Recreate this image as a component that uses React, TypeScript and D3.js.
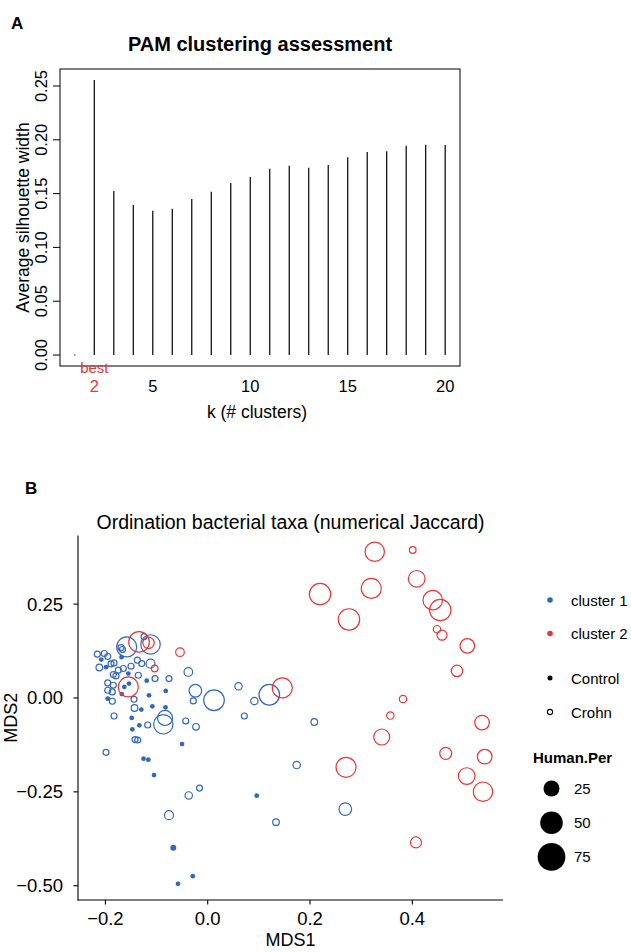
import React from "react";
import * as d3 from "d3";

// ---------- Panel A data ----------
const kValues = [1, 2, 3, 4, 5, 6, 7, 8, 9, 10, 11, 12, 13, 14, 15, 16, 17, 18, 19, 20];
const silhouette = [0, 0.2556, 0.1524, 0.1394, 0.1341, 0.136, 0.145, 0.1518, 0.1599, 0.1654, 0.1732, 0.176, 0.1741, 0.1766, 0.1837, 0.1887, 0.1893, 0.1945, 0.1955, 0.1952];
const yTicksA = [0, 0.05, 0.1, 0.15, 0.2, 0.25];
const xTicksA = [5, 10, 15, 20];
const bestK = 2;

// ---------- Panel B data: [MDS1, MDS2, Human.Per] ----------
const cluster2Crohn: [number, number, number][] = [
  [0.3265, 0.3893, 36.8], [0.4008, 0.3939, 4.3], [0.2196, 0.2765, 44.7], [0.3198, 0.2917, 39],
  [0.4086, 0.3173, 27], [0.2762, 0.2091, 44.7], [0.4399, 0.2605, 36.8], [0.4547, 0.2339, 44.7],
  [0.4483, 0.1832, 5.3], [0.4581, 0.1672, 9.8], [0.5075, 0.1387, 20.8], [0.4874, 0.072, 12.7],
  [0.1458, 0.0267, 39], [0.3818, -0.0027, 5.3], [0.357, -0.0469, 5.3], [0.3402, -0.104, 25],
  [0.5363, -0.0656, 20.8], [0.4653, -0.1475, 14], [0.5415, -0.1563, 20.8], [0.2704, -0.1848, 39],
  [0.5064, -0.208, 27], [0.5382, -0.2496, 36.8], [0.4072, -0.3848, 11.8], [-0.1343, 0.1493, 41.4],
  [-0.1157, 0.1467, 12.7], [-0.0542, 0.1219, 7.2], [-0.1036, 0.0784, 4.3], [-0.1552, 0.0293, 39],
];

const cluster1Crohn: [number, number, number][] = [
  [-0.1584, 0.136, 39], [-0.1118, 0.1424, 36.8], [0.0123, -0.0061, 41.4], [0.1204, 0.0085, 41.4],
  [-0.0868, -0.0701, 36.8], [-0.0835, -0.0533, 22], [-0.0242, 0.0192, 15.5], [-0.0379, 0.0693, 7.2],
  [-0.1118, 0.0912, 7.9], [0.269, -0.296, 15.5], [-0.0757, -0.312, 7.9], [-0.0371, -0.2595, 5.3],
  [-0.2158, 0.1165, 3.5], [-0.2022, 0.1184, 3.5], [-0.1955, 0.1104, 3.5], [-0.1891, 0.0907, 3.5],
  [-0.1832, 0.0933, 3.5], [-0.2119, 0.0811, 4.3], [-0.1748, 0.0739, 3.5], [-0.165, 0.0784, 3.5],
  [-0.15, 0.0845, 3.5], [-0.1376, 0.1005, 3.5], [-0.129, 0.0917, 3.5], [-0.1846, 0.0624, 3.5],
  [-0.1793, 0.0587, 3.5], [-0.1357, 0.0605, 3.5], [-0.103, 0.0517, 3.5], [-0.0757, 0.0517, 3.5],
  [-0.1955, 0.04, 3.5], [-0.1846, 0.0339, 3.5], [-0.1955, 0.0205, 3.5], [-0.1865, 0.016, 3.5],
  [-0.1865, -0.0088, 3.5], [-0.1441, -0.0035, 3.5], [-0.0282, -0.008, 3.5], [0.0602, 0.0312, 5.3],
  [0.0911, -0.008, 5.3], [-0.1431, -0.0267, 4.3], [-0.1832, -0.048, 3.5], [-0.1173, -0.072, 3.5],
  [-0.043, -0.0613, 3.5], [-0.0229, -0.0768, 4.3], [0.0716, -0.048, 3.5], [0.2084, -0.064, 4.3],
  [-0.1421, -0.1109, 3.5], [-0.1369, -0.112, 3.5], [-0.1988, -0.1448, 3.5], [-0.016, -0.24, 3.5],
  [0.174, -0.1787, 5.3], [0.1335, -0.3307, 4.3], [-0.1245, 0.1632, 3.5], [-0.1695, 0.1339, 3.5],
  [-0.1666, 0.1291, 3.5],
];

const cluster1Control: [number, number, number][] = [
  [-0.208, 0.1024, 2.2], [-0.1685, 0.1085, 2.2], [-0.1988, 0.0819, 2.2], [-0.1552, 0.0651, 2.2],
  [-0.1193, 0.0459, 2.2], [-0.163, 0.0293, 2.2], [-0.1539, 0.0384, 2.2], [-0.1681, 0.0104, 2.2],
  [-0.1148, 0.0072, 2.2], [-0.0821, 0.0187, 2.2], [-0.1955, -0.0021, 2.2], [-0.1298, -0.0309, 2.2],
  [-0.1083, -0.0221, 2.2], [-0.0825, -0.0248, 2.2], [-0.1486, -0.0533, 2.2], [-0.1337, -0.0728, 2.2],
  [-0.1474, -0.0835, 2.2], [-0.0502, -0.1227, 2.2], [-0.1255, -0.1616, 2.2], [-0.1161, -0.1643, 2.2],
  [-0.105, -0.2053, 2.2], [-0.0673, -0.3989, 3.5], [-0.0293, -0.4747, 2.2], [-0.0581, -0.4949, 2.2],
  [0.0958, -0.2603, 2.2],
];

const xTicksB = [-0.2, 0, 0.2, 0.4];
const yTicksB = [0.25, 0, -0.25, -0.5];
const clusterNames = ["cluster 1", "cluster 2"];
const groupNames = ["Control", "Crohn"];
const sizeBreaks = [25, 50, 75];

const BLUE = "#3267BF";
const RED = "#EE3333";
const FONT = "'Liberation Sans', Arial, Helvetica, sans-serif";

export default function App() {
  // Panel A scales
  const xA = d3.scaleLinear().domain([0.24, 20.76]).range([60, 460]);
  const yA = d3.scaleLinear().domain([-0.0102, 0.2658]).range([366, 69]);
  // Panel B scales
  const xB = d3.scaleLinear().domain([-0.2536, 0.5773]).range([78, 503]);
  const yB = d3.scaleLinear().domain([-0.538, 0.4326]).range([900, 535.5]);
  const rS = d3.scaleSqrt().domain([0, 75]).range([0, 13.86]);

  const fmt2 = d3.format(".2f");
  const fmtB = (v: number) => (v < 0 ? "\u2212" : "") + d3.format(".2f")(Math.abs(v));
  const fmtX = (v: number) => (v < 0 ? "\u2212" : "") + d3.format(".1f")(Math.abs(v));

  return (
    <svg width={631} height={952} style={{ position: "absolute", left: 0, top: 0, background: "#fff" }} fontFamily={FONT}>
      <rect x={0} y={0} width={631} height={952} fill="#fff" />
      {/* ---------------- Panel A ---------------- */}
      <text x={11} y={28.5} fontSize={17} fontWeight="bold">A</text>
      <text x={260} y={51} fontSize={20} fontWeight="bold" textAnchor="middle">PAM clustering assessment</text>
      <rect x={60} y={69} width={400} height={297} fill="none" stroke="#000" strokeWidth={1} />
      {kValues.map((k, i) => (
        <line key={k} x1={xA(k)} x2={xA(k)} y1={yA(0)} y2={yA(silhouette[i])} stroke="#000" strokeWidth={1.2}
          strokeLinecap={silhouette[i] === 0 ? "square" : "butt"} />
      ))}
      {yTicksA.map((t) => (
        <g key={t}>
          <line x1={53} x2={60} y1={yA(t)} y2={yA(t)} stroke="#000" strokeWidth={1} />
          <text transform={`translate(46.5,${yA(t)}) rotate(-90)`} fontSize={16.5} textAnchor="middle">{fmt2(t)}</text>
        </g>
      ))}
      {xTicksA.map((t) => (
        <text key={t} x={xA(t)} y={392} fontSize={16.5} textAnchor="middle">{t}</text>
      ))}
      <text x={xA(bestK)} y={373} fontSize={15} textAnchor="middle" fill={RED}>best</text>
      <text x={xA(bestK)} y={392} fontSize={16.5} textAnchor="middle" fill={RED}>{bestK}</text>
      <text x={257} y={418} fontSize={17.5} textAnchor="middle">k  (# clusters)</text>
      <text transform={`translate(28.5,217.5) rotate(-90)`} fontSize={17.5} textAnchor="middle">Average silhouette width</text>

      {/* ---------------- Panel B ---------------- */}
      <text x={25} y={494} fontSize={17} fontWeight="bold">B</text>
      <text x={290.5} y={529} fontSize={19.5} textAnchor="middle">Ordination bacterial taxa (numerical Jaccard)</text>

      {cluster1Crohn.map((d, i) => (
        <circle key={"bc" + i} cx={xB(d[0])} cy={yB(d[1])} r={rS(d[2])} fill="none" stroke={BLUE} strokeWidth={1.2} />
      ))}
      {cluster1Control.map((d, i) => (
        <circle key={"bf" + i} cx={xB(d[0])} cy={yB(d[1])} r={rS(d[2])} fill={BLUE} stroke="none" />
      ))}
      {cluster2Crohn.map((d, i) => (
        <circle key={"rc" + i} cx={xB(d[0])} cy={yB(d[1])} r={rS(d[2])} fill="none" stroke={RED} strokeWidth={1.2} />
      ))}

      <line x1={78} x2={78} y1={535.5} y2={900.5} stroke="#000" strokeWidth={1.1} />
      <line x1={77.5} x2={503} y1={900} y2={900} stroke="#000" strokeWidth={1.1} />
      {yTicksB.map((t) => (
        <g key={t}>
          <line x1={73.5} x2={78} y1={yB(t)} y2={yB(t)} stroke="#000" strokeWidth={1.1} />
          <text x={63} y={yB(t) + 6.5} fontSize={18.5} textAnchor="end">{fmtB(t)}</text>
        </g>
      ))}
      {xTicksB.map((t) => (
        <g key={t}>
          <line x1={xB(t)} x2={xB(t)} y1={900} y2={904.5} stroke="#000" strokeWidth={1.1} />
          <text x={xB(t)} y={925} fontSize={18.5} textAnchor="middle">{fmtX(t)}</text>
        </g>
      ))}
      <text x={290.5} y={946} fontSize={18} textAnchor="middle">MDS1</text>
      <text transform={`translate(17,717.7) rotate(-90)`} fontSize={18} textAnchor="middle">MDS2</text>

      {/* Legend */}
      {clusterNames.map((n, i) => (
        <g key={n}>
          <circle cx={550} cy={600 + i * 33.5} r={2.8} fill={i === 0 ? BLUE : RED} />
          <text x={571} y={605.5 + i * 33.5} fontSize={15}>{n}</text>
        </g>
      ))}
      {groupNames.map((n, i) => (
        <g key={n}>
          {i === 0 ? (
            <circle cx={550} cy={678 + i * 34} r={2.5} fill="#000" />
          ) : (
            <circle cx={550} cy={678 + i * 34} r={2.6} fill="none" stroke="#000" strokeWidth={1.1} />
          )}
          <text x={571} y={683.5 + i * 34} fontSize={15}>{n}</text>
        </g>
      ))}
      <text x={533} y={763} fontSize={15} fontWeight="bold">Human.Per</text>
      {sizeBreaks.map((b, i) => (
        <g key={b}>
          <circle cx={551.5} cy={788.5 + i * 34.2} r={rS(b)} fill="#000" />
          <text x={574} y={794 + i * 34.2} fontSize={15}>{b}</text>
        </g>
      ))}
    </svg>
  );
}
